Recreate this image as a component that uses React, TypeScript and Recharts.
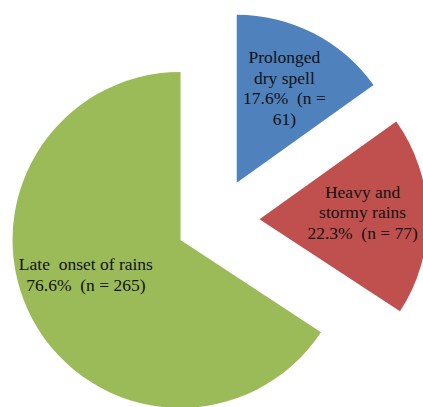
import { PieChart, Pie, Cell, Sector, Tooltip } from 'recharts';

const causes = ['Prolonged dry spell', 'Heavy and stormy rains', 'Late onset of rains'];
const counts = [61, 77, 265];
const percents = [17.6, 22.3, 76.6];
const colors = ['#4F81BD', '#C0504D', '#9BBB59'];
// how each label wraps inside its slice
const labelLines = [
  ['Prolonged', 'dry spell', '17.6%  (n =', '61)'],
  ['Heavy and', 'stormy rains', '22.3%  (n = 77)'],
  ['Late  onset of rains', '76.6%  (n = 265)'],
];
// small hand nudges so labels sit where Excel put them
const labelNudge = [
  [0, -2],
  [-1, -5],
  [-3, -15],
];

const data = causes.map((name, i) => ({ name, value: counts[i], pct: percents[i] }));

const RAD = Math.PI / 180;
const EXPLODE = 42;
const LINE_H = 20.5;

const shift = (cx: number, cy: number, mid: number, d: number) => ({
  x: cx + d * Math.cos(mid * RAD),
  y: cy - d * Math.sin(mid * RAD),
});

const ExplodedSector = (props: any) => {
  const p = shift(props.cx, props.cy, props.midAngle, EXPLODE);
  return <Sector {...props} cx={p.x} cy={p.y} />;
};

const renderLabel = (props: any) => {
  const { cx, cy, midAngle, outerRadius, index } = props;
  const c = shift(cx, cy, midAngle, EXPLODE);
  const p = shift(c.x, c.y, midAngle, outerRadius * 0.62);
  const x = p.x + labelNudge[index][0];
  const lines = labelLines[index];
  const y0 = p.y + labelNudge[index][1] - ((lines.length - 1) * LINE_H) / 2;
  return (
    <text
      x={x}
      y={y0}
      textAnchor="middle"
      dominantBaseline="central"
      fill="#111"
      fontSize={17.5}
      fontFamily="'Liberation Serif', 'Times New Roman', serif"
      style={{ whiteSpace: 'pre' }}
    >
      {lines.map((l, i) => (
        <tspan key={i} x={x} y={y0 + i * LINE_H}>
          {l}
        </tspan>
      ))}
    </text>
  );
};

export default function App() {
  return (
    <div style={{ position: 'absolute', left: 0, top: 0, width: 423, height: 407, background: '#fff' }}>
      <PieChart width={423} height={407} margin={{ top: 0, right: 0, bottom: 0, left: 0 }}>
        <Pie
          data={data}
          dataKey="value"
          nameKey="name"
          cx={217.5}
          cy={220}
          outerRadius={168}
          startAngle={90}
          endAngle={-270}
          stroke="none"
          labelLine={false}
          label={renderLabel}
          shape={ExplodedSector}
          activeShape={ExplodedSector}
          inactiveShape={ExplodedSector}
          isAnimationActive={false}
        >
          {data.map((d, i) => (
            <Cell key={d.name} fill={colors[i]} />
          ))}
        </Pie>
        <Tooltip defaultIndex={0} content={() => null} cursor={false} />
      </PieChart>
    </div>
  );
}
